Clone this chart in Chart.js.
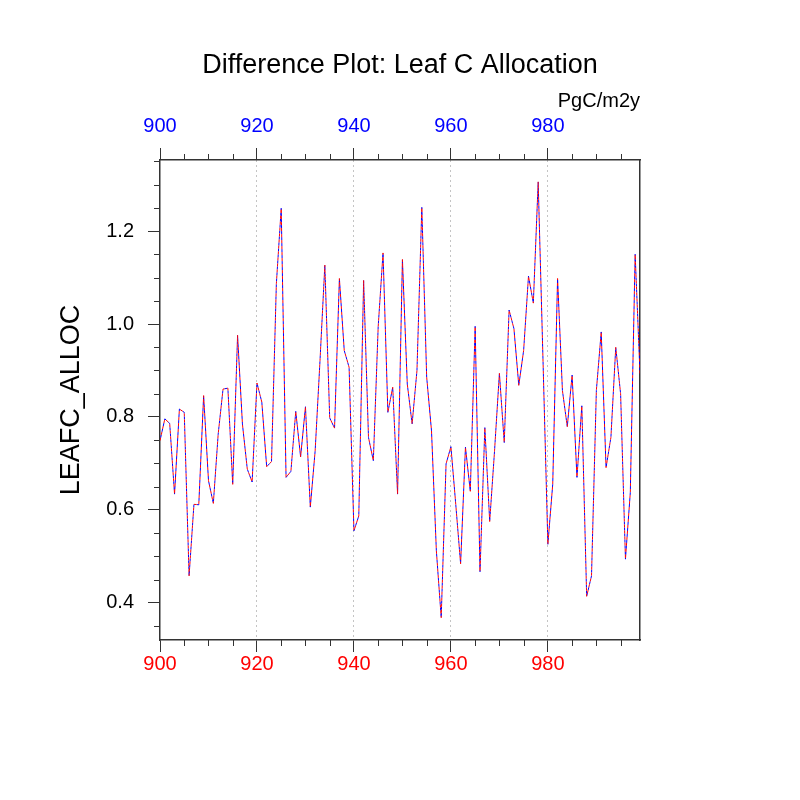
<!DOCTYPE html>
<html>
<head>
<meta charset="utf-8">
<title>Difference Plot: Leaf C Allocation</title>
<script src="https://cdn.jsdelivr.net/npm/chart.js@4.4.1/dist/chart.umd.min.js"></script>
<style>
  body { margin: 0; background: #fff; }
  canvas { display: block; }
</style>
</head>
<body>
<canvas id="myChart" width="800" height="800"></canvas>
<script>
// Model years (x axis)
const years = [
    900, 901, 902, 903, 904, 905, 906, 907, 908, 909,
    910, 911, 912, 913, 914, 915, 916, 917, 918, 919,
    920, 921, 922, 923, 924, 925, 926, 927, 928, 929,
    930, 931, 932, 933, 934, 935, 936, 937, 938, 939,
    940, 941, 942, 943, 944, 945, 946, 947, 948, 949,
    950, 951, 952, 953, 954, 955, 956, 957, 958, 959,
    960, 961, 962, 963, 964, 965, 966, 967, 968, 969,
    970, 971, 972, 973, 974, 975, 976, 977, 978, 979,
    980, 981, 982, 983, 984, 985, 986, 987, 988, 989,
    990, 991, 992, 993, 994, 995, 996, 997, 998, 999
];

// LEAFC_ALLOC values (both runs lie on top of each other)
const leafcAlloc = [
    0.749, 0.796, 0.786, 0.634, 0.817, 0.810, 0.458, 0.612, 0.611, 0.846,
    0.663, 0.614, 0.763, 0.860, 0.862, 0.655, 0.976, 0.785, 0.688, 0.660,
    0.873, 0.832, 0.693, 0.704, 1.087, 1.249, 0.670, 0.683, 0.812, 0.714,
    0.822, 0.606, 0.727, 0.921, 1.127, 0.798, 0.776, 1.098, 0.943, 0.907,
    0.555, 0.587, 1.094, 0.756, 0.706, 0.994, 1.153, 0.810, 0.864, 0.634,
    1.139, 0.871, 0.785, 0.900, 1.251, 0.886, 0.770, 0.512, 0.368, 0.699,
    0.736, 0.612, 0.484, 0.735, 0.640, 0.995, 0.467, 0.777, 0.575, 0.727,
    0.894, 0.745, 1.030, 0.990, 0.868, 0.943, 1.103, 1.045, 1.306, 0.920,
    0.526, 0.655, 1.098, 0.857, 0.779, 0.890, 0.670, 0.824, 0.414, 0.458,
    0.857, 0.983, 0.691, 0.756, 0.950, 0.850, 0.494, 0.637, 1.150, 0.893
];

// Tick labels
const xTicks = [900, 920, 940, 960, 980];
const yTicks = [0.4, 0.6, 0.8, 1.0, 1.2];

const FONT = 'Liberation Sans, Arial, Helvetica, sans-serif';
const points = years.map((y, i) => ({ x: y, y: leafcAlloc[i] }));

// Minor tick marks (NCL style) drawn through the chart scales
const minorTicks = {
    id: 'minorTicks',
    afterDraw(chart) {
        const ctx = chart.ctx;
        const area = chart.chartArea;
        const x = chart.scales.x;
        const y = chart.scales.y;
        ctx.save();
        ctx.strokeStyle = '#333';
        ctx.lineWidth = 1;
        ctx.beginPath();
        for (let v = 900; v <= 999; v += 5) {
            if (v % 20 === 0) continue;
            const px = Math.round(x.getPixelForValue(v)) + 0.5;
            ctx.moveTo(px, area.top);
            ctx.lineTo(px, area.top - 6);
            ctx.moveTo(px, area.bottom);
            ctx.lineTo(px, area.bottom + 6);
        }
        for (let v = 0.35; v < 1.36; v += 0.05) {
            const r = Math.round(v * 100);
            if (r % 20 === 0) continue;
            const py = Math.round(y.getPixelForValue(r / 100)) + 0.5;
            ctx.moveTo(area.left, py);
            ctx.lineTo(area.left - 6, py);
        }
        ctx.stroke();
        ctx.restore();
    }
};

function setXTicks(scale) {
    scale.ticks = xTicks.map(v => ({ value: v }));
}

const ctx = document.getElementById('myChart').getContext('2d');
const myChart = new Chart(ctx, {
    type: 'line',
    data: {
        datasets: [{
            label: 'run 1',
            data: points,
            borderColor: 'rgb(255, 0, 0)',
            borderWidth: 1,
            borderDash: [3, 3],
            pointRadius: 0,
            tension: 0
        }, {
            label: 'run 2',
            data: points,
            borderColor: 'rgb(0, 0, 255)',
            borderWidth: 1,
            borderDash: [3, 3],
            borderDashOffset: 3,
            pointRadius: 0,
            tension: 0
        }]
    },
    options: {
        responsive: false,
        animation: false,
        layout: { padding: { left: 40, right: 40, top: 0, bottom: 0 } },
        plugins: {
            legend: { display: false },
            tooltip: { enabled: false },
            title: {
                display: true,
                text: 'Difference Plot: Leaf C Allocation',
                color: '#000',
                font: { family: FONT, size: 27, weight: 'normal' },
                padding: { top: 49.6, bottom: 0 }
            }
        },
        scales: {
            x: {
                type: 'linear',
                position: 'bottom',
                min: 900,
                max: 999,
                afterBuildTicks: setXTicks,
                afterFit(scale) { scale.height = 160; },
                ticks: {
                    color: 'rgb(255, 0, 0)',
                    font: { family: FONT, size: 20 },
                    padding: 0,
                    maxRotation: 0,
                    autoSkip: false,
                    callback: v => String(v)
                },
                grid: {
                    drawOnChartArea: true,
                    color: c => (c.tick && c.tick.value === 900) ? 'rgba(0,0,0,0)' : '#c4c4c4',
                    lineWidth: 1,
                    tickLength: 12,
                    tickColor: '#333',
                    tickWidth: 1
                },
                border: { color: '#333', width: 1.5, dash: [2, 3] }
            },
            x2: {
                type: 'linear',
                position: 'top',
                min: 900,
                max: 999,
                afterBuildTicks: setXTicks,
                afterFit(scale) { scale.height = 78; },
                title: {
                    display: true,
                    text: 'PgC/m2y',
                    align: 'end',
                    color: '#000',
                    font: { family: FONT, size: 20 },
                    padding: { top: 7, bottom: 0 }
                },
                ticks: {
                    color: 'rgb(0, 0, 255)',
                    font: { family: FONT, size: 20 },
                    padding: 10,
                    maxRotation: 0,
                    autoSkip: false,
                    callback: v => String(v)
                },
                grid: {
                    drawOnChartArea: false,
                    tickLength: 12,
                    tickColor: '#333',
                    tickWidth: 1
                },
                border: { color: '#333', width: 1.5 }
            },
            y: {
                type: 'linear',
                position: 'left',
                min: 0.32,
                max: 1.353,
                afterBuildTicks(scale) {
                    scale.ticks = yTicks.map(v => ({ value: v }));
                },
                afterFit(scale) { scale.width = 120; },
                title: {
                    display: true,
                    text: 'LEAFC_ALLOC',
                    color: '#000',
                    font: { family: FONT, size: 27 },
                    padding: { top: 15.8, bottom: 0 }
                },
                ticks: {
                    color: '#000',
                    font: { family: FONT, size: 20 },
                    padding: 14,
                    callback: v => v.toFixed(1)
                },
                grid: {
                    drawOnChartArea: false,
                    tickLength: 12,
                    tickColor: '#333',
                    tickWidth: 1
                },
                border: { color: '#333', width: 1.5 }
            },
            yRight: {
                type: 'linear',
                position: 'right',
                min: 0,
                max: 1,
                afterFit(scale) { scale.width = 120; },
                ticks: { display: false },
                grid: { display: false },
                border: { color: '#333', width: 1.5 }
            }
        }
    },
    plugins: [minorTicks]
});
</script>
</body>
</html>
